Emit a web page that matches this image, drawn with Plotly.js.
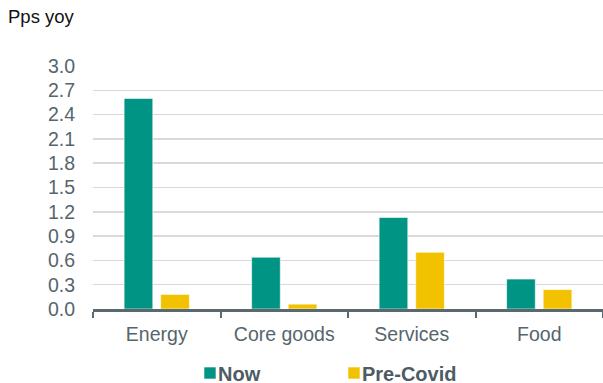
<!DOCTYPE html>
<html>
<head>
<meta charset="utf-8">
<script src="https://cdn.plot.ly/plotly-3.0.1.min.js"></script>
<style>
  html, body { margin: 0; padding: 0; background: #ffffff; }
  #chart { width: 603px; height: 383px; }
</style>
</head>
<body>
<div id="chart"></div>
<script>
// Contribution to inflation by component, percentage points year on year
const categories = ['Energy', 'Core goods', 'Services', 'Food'];
const nowValues = [2.60, 0.64, 1.13, 0.37];
const preCovidValues = [0.18, 0.06, 0.70, 0.24];
const seriesNames = ['Now', 'Pre-Covid'];
const yTickValues = [0, 0.3, 0.6, 0.9, 1.2, 1.5, 1.8, 2.1, 2.4, 2.7, 3.0];
const yTickLabels = ['0.0', '0.3', '0.6', '0.9', '1.2', '1.5', '1.8', '2.1', '2.4', '2.7', '3.0'];

const TEAL = '#009485';
const GOLD = '#f2c100';
const AXIS = '#5a6870';
const TEXT = '#56656d';
const FONT = 'Liberation Sans, Arial, sans-serif';

const traces = [
  {
    type: 'bar',
    name: seriesNames[0],
    x: categories,
    y: nowValues,
    marker: { color: TEAL, line: { color: 'rgba(255,255,255,0.6)', width: 1 } },
    hoverinfo: 'x+y+name'
  },
  {
    type: 'bar',
    name: seriesNames[1],
    x: categories,
    y: preCovidValues,
    marker: { color: GOLD, line: { color: 'rgba(255,255,255,0.6)', width: 1 } },
    hoverinfo: 'x+y+name'
  }
];

const layout = {
  width: 603,
  height: 383,
  margin: { l: 93, r: 0, t: 66, b: 74, pad: 0 },
  paper_bgcolor: '#ffffff',
  plot_bgcolor: '#ffffff',
  font: { family: FONT, color: TEXT, size: 19.5 },
  barmode: 'group',
  bargap: 0.426,
  bargroupgap: 0.216,
  title: {
    text: 'Pps yoy',
    font: { family: FONT, size: 18.5, color: '#111111' },
    x: 8 / 603, xref: 'container', xanchor: 'left',
    y: 1 - 17 / 383, yref: 'container', yanchor: 'middle'
  },
  xaxis: {
    type: 'category',
    tickson: 'boundaries',
    ticks: 'outside',
    ticklen: 6,
    tickwidth: 2,
    tickcolor: AXIS,
    showline: true,
    linecolor: AXIS,
    linewidth: 2.5,
    showgrid: false,
    zeroline: false,
    ticklabelstandoff: 6,
    tickfont: { family: FONT, size: 19.5, color: TEXT },
    fixedrange: true
  },
  yaxis: {
    range: [0, 3.0],
    tickvals: yTickValues,
    ticktext: yTickLabels,
    showgrid: true,
    gridcolor: '#d9d9d9',
    gridwidth: 1.5,
    zeroline: false,
    showline: false,
    ticks: '',
    ticklabelstandoff: 17,
    tickfont: { family: FONT, size: 19.5, color: TEXT },
    fixedrange: true
  },
  showlegend: true,
  legend: {
    orientation: 'h',
    xref: 'container',
    yref: 'container',
    x: 190 / 603,
    xanchor: 'left',
    y: 10 / 383,
    yanchor: 'middle',
    font: { family: FONT, size: 20, color: '#4d5b63', weight: 'bold' },
    itemwidth: 30,
    entrywidth: 99,
    entrywidthmode: 'pixels',
    traceorder: 'normal',
    bgcolor: 'rgba(0,0,0,0)'
  }
};

// Pull each legend label in close to its colour swatch
function tightenLegend(gd) {
  gd.querySelectorAll('.legend .legendtext').forEach(function (t) {
    const x = parseFloat(t.getAttribute('x')) || 0;
    t.setAttribute('x', x - 12);
  });
}

Plotly.newPlot('chart', traces, layout, { displayModeBar: false, staticPlot: true })
  .then(tightenLegend);
</script>
</body>
</html>
